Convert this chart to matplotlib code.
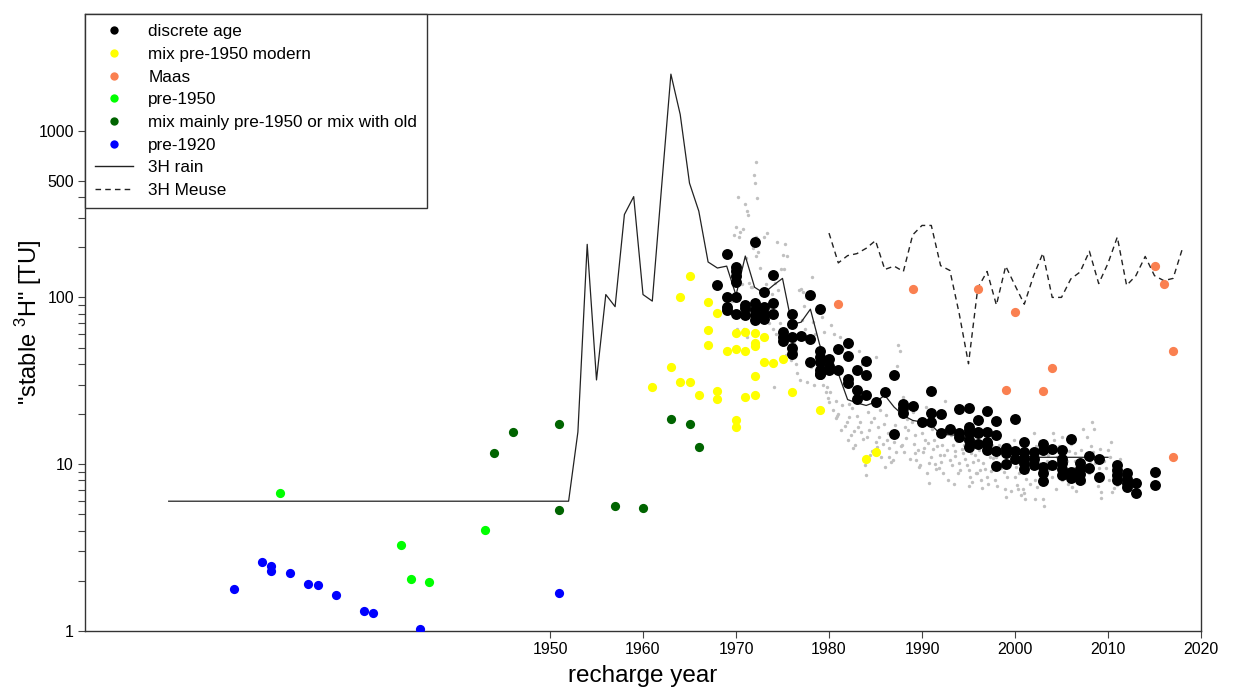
import numpy as np
import matplotlib
matplotlib.use("Agg")
import matplotlib.pyplot as plt
from matplotlib.lines import Line2D
from matplotlib.ticker import FixedLocator, NullFormatter

plt.rcParams['font.family'] = ['Liberation Sans', 'DejaVu Sans']
plt.rcParams['mathtext.fontset'] = 'custom'
plt.rcParams['mathtext.rm'] = 'Liberation Sans'

# --- tritium in rain (solid line) ---
rain_year = [1909, 1952, 1953, 1954, 1955, 1956, 1957, 1958, 1959, 1960, 1961, 1962,
             1963, 1964, 1965, 1966, 1967, 1968, 1969, 1970, 1971, 1972, 1973, 1974,
             1975, 1976, 1977, 1978, 1979, 1980, 1981, 1982, 1983, 1984, 1985, 1986,
             1987, 1988, 1989, 1990, 1991, 1992, 1993, 1994, 1995, 1996, 1997, 1998,
             1999, 2000, 2001, 2002, 2003, 2004, 2005, 2006, 2007, 2008, 2009, 2010]
rain_tu = [6.0, 6.0, 15.6, 208, 32, 104, 88, 314, 402, 104, 95, 460,
           2180, 1250, 484, 329, 163, 150, 154, 103, 177, 115, 106, 118,
           130, 69, 71, 85, 52, 37.5, 35, 24.4, 23.3, 22.5, 23.6, 25.9,
           22, 19.6, 18.3, 17.9, 17.2, 15.1, 15.0, 14.9, 13.8, 13.2, 12.7, 12.3,
           12.0, 11.6, 11.3, 11.0, 11.0, 11.0, 11.0, 11.0, 11.0, 11.0, 11.0, 11.0]

# --- tritium in the Meuse (dashed line) ---
meuse_year = list(range(1980, 2019))
meuse_tu = [243, 161, 178, 183, 197, 219, 147, 154, 143, 237, 270, 270, 155, 145,
            80, 40, 114, 143, 90, 154, 118, 91, 135, 184, 100, 100, 129, 142,
            189, 121, 160, 230, 118, 135, 176, 135, 126, 130, 196]

# --- groundwater samples ---
disc_year = [1972, 1969, 1970, 1970, 1970, 1970, 1974, 1968, 1969, 1970, 1969, 1969,
             1970, 1971, 1971, 1971, 1972, 1972, 1972, 1972, 1973, 1973, 1973, 1973,
             1974, 1974, 1976, 1976, 1975, 1975, 1975, 1976, 1977, 1976, 1976, 1978,
             1978, 1979, 1978, 1979, 1979, 1979, 1979, 1979, 1979, 1980, 1980, 1980,
             1981, 1981, 1982, 1982, 1982, 1982, 1983, 1983, 1983, 1984, 1984, 1984,
             1985, 1986, 1987, 1987, 1988, 1988, 1988, 1989, 1990, 1991, 1991, 1991,
             1992, 1992, 1993, 1994, 1994, 1994, 1995, 1995, 1995, 1995, 1995, 1995,
             1996, 1996, 1996, 1996, 1997, 1997, 1997, 1997, 1997, 1998, 1998, 1998,
             1998, 1999, 1999, 1999, 2000, 2000, 2000, 2001, 2001, 2001, 2001, 2001,
             2002, 2002, 2002, 2003, 2003, 2003, 2003, 2003, 2004, 2004, 2005, 2005,
             2005, 2005, 2005, 2006, 2006, 2006, 2007, 2007, 2007, 2007, 2008, 2008,
             2009, 2009, 2011, 2011, 2011, 2011, 2012, 2012, 2012, 2012, 2013, 2013,
             2015, 2015]
disc_tu = [216, 182, 153, 143, 134, 124, 137, 118, 100, 101, 88, 84,
           79, 90, 86, 78, 93, 84, 78, 73, 107, 88, 80, 74,
           92, 80, 79, 69, 62, 58, 55, 58, 59, 50, 46, 103,
           56, 85, 41, 48, 44, 41, 36.5, 34.9, 34.5, 42.5, 38.6, 36.8,
           49.3, 36.5, 53.2, 44.3, 32.6, 30.7, 36.5, 28.0, 24.7, 41.5, 34.1, 25.9,
           23.6, 27.1, 34.1, 15.1, 22.8, 21.6, 20.3, 22.2, 17.8, 27.5, 20.4, 17.8,
           20.1, 15.3, 16.2, 21.3, 15.3, 14.6, 21.7, 16.7, 15.3, 13.9, 12.7, 16.0,
           18.3, 15.6, 13.3, 15.4, 20.8, 15.6, 13.6, 13.3, 12.2, 18.2, 14.9, 12.0,
           9.8, 12.5, 11.6, 9.96, 18.6, 11.96, 10.8, 13.6, 11.9, 10.9, 10.1, 9.3,
           11.9, 10.8, 9.85, 13.2, 12.1, 9.6, 8.9, 7.9, 12.4, 9.85, 12.1, 10.8,
           10.1, 9.4, 8.6, 14.1, 9.0, 8.3, 10.2, 9.4, 8.7, 8.0, 11.2, 9.5,
           10.8, 8.4, 9.85, 9.2, 8.6, 8.0, 8.8, 8.2, 7.7, 7.25, 7.7, 6.7,
           9.0, 7.5]

mixmod_year = [1965, 1964, 1967, 1968, 1967, 1967, 1970, 1971, 1972, 1973, 1972, 1972,
               1969, 1970, 1971, 1973, 1974, 1975, 1972, 1963, 1961, 1964, 1965, 1966,
               1968, 1968, 1971, 1972, 1976, 1970, 1970, 1979, 1985, 1984]
mixmod_tu = [134, 101, 94, 81, 64, 52, 61, 62, 61, 58, 53.5, 51,
             48, 49, 47.5, 41, 40.5, 42.7, 33.8, 38.3, 29.2, 31.1, 31.3, 25.9,
             27.6, 24.6, 25.2, 26.0, 27.1, 18.3, 16.7, 21.0, 11.8, 10.7]

maas_year = [1981, 1989, 1996, 2000, 2004, 1999, 2003, 2015, 2016, 2017, 2017]
maas_tu = [91, 112, 112, 82, 37.7, 28, 27.4, 154, 120, 48, 11]

pre1950_year = [1921, 1934, 1935, 1937, 1943]
pre1950_tu = [6.7, 3.27, 2.05, 1.96, 4.02]

mixold_year = [1944, 1946, 1951, 1951, 1957, 1960, 1963, 1965, 1966]
mixold_tu = [11.7, 15.6, 17.4, 5.28, 5.6, 5.5, 18.6, 17.5, 12.6]

pre1920_year = [1916, 1919, 1920, 1920, 1922, 1924, 1925, 1927, 1930, 1931, 1936, 1951]
pre1920_tu = [1.79, 2.6, 2.45, 2.29, 2.22, 1.91, 1.89, 1.64, 1.31, 1.29, 1.03, 1.68]

# --- small grey dots (individual estimates) ---
grey_year = [1970.2, 1970.0, 1970.4, 1969.8, 1970.3, 1970.6, 1969.6, 1970.1,
             1971.0, 1971.2, 1971.3, 1970.8, 1971.1, 1971.4, 1971.6, 1970.9, 1971.2,
             1972.1, 1971.9, 1972.0, 1972.3, 1972.2, 1971.8, 1972.4, 1972.1, 1972.6, 1971.7, 1972.3,
             1973.3, 1973.0, 1973.2, 1972.8, 1973.5,
             1974.4, 1974.2, 1974.5, 1973.9, 1974.0, 1974.3, 1974.1,
             1975.3, 1975.0, 1975.5, 1975.2, 1974.8, 1975.6, 1975.4,
             1976.2, 1976.4, 1975.9, 1976.6,
             1977.0, 1976.8, 1977.2, 1977.5, 1977.3, 1977.1, 1977.4, 1976.9, 1977.6,
             1978.2, 1978.0, 1978.3, 1978.5, 1978.1, 1978.4,
             1979.3, 1979.5, 1979.1, 1979.4, 1979.7,
             1980.2, 1980.5, 1980.1, 1979.9, 1980.0, 1980.4,
             1981.2, 1981.5, 1981.4, 1981.0, 1980.8, 1981.3,
             1982.3, 1982.5, 1982.1, 1981.9, 1982.4, 1982.0, 1982.6,
             1983.2, 1983.5, 1983.0, 1983.1, 1983.4, 1982.8,
             1984.2, 1984.5, 1984.3, 1984.1, 1983.9, 1984.0, 1984.6,
             1985.1, 1985.4, 1985.0, 1985.2, 1985.6,
             1986.1, 1985.9, 1986.3, 1986.5, 1986.0, 1986.4,
             1987.4, 1987.6, 1987.3, 1987.5, 1987.2, 1986.9, 1987.0,
             1988.0, 1988.2, 1988.5, 1988.3, 1988.1, 1987.8,
             1989.1, 1989.2, 1989.4, 1988.9, 1989.3,
             1990.0, 1990.3, 1989.8, 1990.5, 1990.2, 1990.4,
             1991.2, 1991.0, 1990.8, 1991.4, 1991.3,
             1992.0, 1992.4, 1991.8, 1992.2, 1992.5,
             1993.1, 1993.3, 1993.0, 1992.8, 1993.5,
             1994.2, 1994.4, 1994.0, 1993.9, 1994.5,
             1995.3, 1995.5, 1994.8, 1995.0, 1995.2, 1995.4, 1995.6,
             1996.1, 1996.0, 1996.2, 1995.9, 1996.3,
             1996.8, 1997.0, 1997.3, 1997.5,
             1998.3, 1998.0, 1998.5, 1997.8,
             1999.1, 1999.0, 1999.4, 1998.8,
             2000.0, 2000.2, 2000.3, 2000.5, 1999.8,
             2000.9, 2001.0, 2001.1, 2001.3, 2001.5,
             2002.0, 2002.2, 2002.1, 2002.5, 2001.8,
             2003.0, 2003.1, 2002.9, 2003.4, 2003.2,
             2004.1, 2004.0, 2004.3, 2004.5, 2003.8,
             2005.0, 2005.1, 2005.4, 2004.8,
             2006.1, 2006.3, 2005.8, 2006.5,
             2007.3, 2007.0, 2007.5, 2006.8,
             2008.3, 2008.5, 2008.4, 2007.9, 2008.1,
             2009.2, 2009.3, 2009.0, 2008.8,
             2010.3, 2010.2, 2010.1, 2010.4, 2009.8,
             2010.8, 2011.0, 2011.2,
             2012.2, 2012.0, 2013.0,
             # second pass, denser part of the cloud
             1973.7, 1974.7, 1976.0, 1976.5, 1978.7, 1979.0, 1979.8, 1980.7, 1980.9,
             1981.7, 1982.2, 1982.7, 1983.3, 1983.7, 1984.4, 1984.8, 1985.3, 1985.5,
             1985.8, 1986.2, 1986.7, 1987.1, 1987.7, 1988.4, 1988.7, 1989.0, 1989.6,
             1989.7, 1990.1, 1990.6, 1990.7, 1991.1, 1991.5, 1991.6, 1991.9, 1992.1,
             1992.3, 1992.7, 1993.2, 1993.4, 1993.6, 1993.8, 1994.1, 1994.3, 1994.6,
             1994.7, 1995.1, 1995.7, 1995.8, 1996.4, 1996.5, 1996.6, 1996.9, 1997.1,
             1997.2, 1997.4, 1997.6, 1997.9, 1998.1, 1998.2, 1998.4, 1998.6, 1998.9,
             1999.2, 1999.3, 1999.5, 1999.6, 1999.9, 2000.1, 2000.4, 2000.6, 2000.7,
             2001.2, 2001.4, 2001.6, 2001.7, 2002.3, 2002.4, 2002.6, 2002.7, 2003.3,
             2003.5, 2003.6, 2004.2, 2004.4, 2004.6, 2004.7, 2005.2, 2005.3, 2005.6,
             2005.7, 2006.0, 2006.2, 2006.4, 2006.6, 2007.1, 2007.2, 2007.4, 2007.7,
             2008.0, 2008.2, 2008.6, 2008.9, 2009.1, 2009.4, 2009.6, 2010.0, 2010.6,
             2011.3, 2011.5, 2012.4, 2012.6]
grey_tu = [400, 265, 246, 238, 231, 121, 95, 65,
           362, 331, 310, 258, 172, 122, 115, 65, 58,
           650, 540, 486, 395, 229, 198, 186, 176, 151, 115, 90,
           242, 229, 120, 105, 70,
           214, 122, 110, 105, 65, 60, 29,
           210, 180, 176, 149, 148, 50, 45,
           53, 48, 42, 35,
           112, 110, 107, 100, 89, 73, 65, 31.8, 31,
           133, 108, 71, 60, 38, 30,
           76, 62, 45, 30, 27,
           68, 60, 27, 25, 23.6, 21,
           58, 50, 22.5, 20, 18.8, 16,
           54, 21.6, 19.2, 17.9, 14.9, 13.9, 12.5,
           48, 40, 19.4, 16.7, 15.5, 13,
           20.6, 17.9, 16, 14.5, 9.85, 8.6, 12,
           44, 14.6, 13.6, 12.7, 11,
           19.6, 17.5, 15.3, 12.5, 9.6, 11,
           51.5, 48, 39, 20.6, 11.9, 10.6, 13.5,
           25.3, 16.7, 16, 14.3, 11.9, 13,
           13.3, 11.6, 10.6, 18, 15,
           15.3, 14, 9.85, 8.8, 12.5, 22,
           12.4, 11.0, 7.7, 10, 14,
           10.3, 11.3, 9.5, 13, 24,
           14.9, 13.0, 10.6, 8.0, 12,
           15.6, 11.6, 10.1, 8.8, 13,
           11.6, 10.3, 9.85, 9.2, 8.4, 7.8, 14,
           12.1, 10.6, 9.2, 8.8, 8.0,
           9.4, 8.4, 11, 13,
           13.0, 11, 9.5, 8,
           8.4, 6.4, 10.5, 9,
           8.4, 7.5, 7.1, 10, 12,
           7.1, 6.7, 6.2, 9, 10.5,
           15.3, 8.0, 6.2, 11, 9.5,
           6.2, 5.6, 8.5, 10.5, 12.5,
           15.3, 8.4, 9.5, 11, 12,
           14.6, 8.0, 11, 9,
           7.3, 9.5, 12, 10.5,
           16.3, 8.5, 11, 9.8,
           17.9, 16.3, 11.9, 9, 10.5,
           6.8, 6.3, 9.5, 11,
           13.6, 11.0, 8.0, 6.8, 9.5,
           9.85, 7.5, 8.5,
           8, 7, 7.5,
           # second pass
           85, 70, 58, 40, 46, 34, 29, 24, 19.5,
           17, 23, 15.8, 18, 14.2, 11.3, 18.8, 16.8, 21,
           13.2, 14, 10.3, 17.2, 12.8, 18.6, 10.8, 20.5, 12.2,
           9.6, 11.8, 13.4, 10.2, 16.2, 9.3, 12.9, 11.4, 15.2,
           8.9, 12.2, 9.9, 7.6, 11.2, 13.8, 9.2, 12.4, 10.8,
           16.5, 7.4, 11.4, 8.9, 13.6, 7.2, 10.1, 11.8, 7.6,
           14.2, 9.1, 10.9, 12.6, 7.4, 14.6, 9.9, 11.8, 7.1,
           13.2, 9.6, 11.2, 6.9, 13.9, 9.6, 8.8, 6.5, 12.4,
           8.1, 11.7, 7.6, 9.7, 12.9, 7.3, 10.1, 13.7, 7.8,
           11.3, 9.2, 13.9, 7.1, 10.4, 12.9, 8.7, 12.5, 10.4,
           7.6, 13.3, 8.2, 11.6, 6.9, 12.2, 9.1, 7.8, 14.6,
           8.9, 12.8, 10.1, 7.4, 12.4, 8.1, 10.4, 12.1, 7.2,
           10.7, 8.1, 9.2, 7.6]

fig = plt.figure(figsize=(12.35, 6.91), dpi=100)
ax = fig.add_axes([85 / 1235, 60 / 691, 1116 / 1235, 617 / 691])

ax.scatter(grey_year, grey_tu, s=6, color='#c0c0c0', linewidths=0, zorder=2)
ax.plot(rain_year, rain_tu, color='#222222', lw=0.9, zorder=3)
ax.plot(meuse_year, meuse_tu, color='#222222', lw=1.0, ls=(0, (4, 3)), zorder=3)

ax.scatter(disc_year, disc_tu, s=62, color='black', linewidths=0, zorder=4)
ax.scatter(mixmod_year, mixmod_tu, s=44, color='#ffff00', linewidths=0, zorder=4)
ax.scatter(maas_year, maas_tu, s=44, color='#fa8050', linewidths=0, zorder=4)
ax.scatter(pre1950_year, pre1950_tu, s=44, color='#00ff00', linewidths=0, zorder=4)
ax.scatter(mixold_year, mixold_tu, s=44, color='#006400', linewidths=0, zorder=4)
ax.scatter(pre1920_year, pre1920_tu, s=44, color='#0000ff', linewidths=0, zorder=4)

ax.set_yscale('log')
ax.set_xlim(1900, 2020)
ax.set_ylim(1, 5000)

ax.set_xticks(range(1950, 2021, 10))
ax.yaxis.set_major_locator(FixedLocator([1, 10, 100, 500, 1000]))
ax.yaxis.set_minor_locator(FixedLocator([2, 3, 4, 5, 6, 7, 8, 9, 20, 30, 40, 50, 60, 70,
                                         80, 90, 200, 300, 400]))
ax.yaxis.set_minor_formatter(NullFormatter())
ax.set_yticklabels(['1', '10', '100', '500', '1000'])
ax.tick_params(axis='both', which='both', direction='out', length=5, width=0.8,
               color='#444444', labelsize=11.5, pad=3)

for sp in ax.spines.values():
    sp.set_color('#333333')
    sp.set_linewidth(1.0)

ax.set_xlabel('recharge year', fontsize=17.5, labelpad=5.5)
ax.set_ylabel('"stable $^\\mathregular{3}$H" [TU]', fontsize=17, labelpad=-4)

handles = [
    Line2D([], [], ls='none', marker='o', ms=6, mfc='black', mec='none'),
    Line2D([], [], ls='none', marker='o', ms=6, mfc='#ffff00', mec='none'),
    Line2D([], [], ls='none', marker='o', ms=6, mfc='#fa8050', mec='none'),
    Line2D([], [], ls='none', marker='o', ms=6, mfc='#00ff00', mec='none'),
    Line2D([], [], ls='none', marker='o', ms=6, mfc='#006400', mec='none'),
    Line2D([], [], ls='none', marker='o', ms=6, mfc='#0000ff', mec='none'),
    Line2D([], [], color='#222222', lw=1.0),
    Line2D([], [], color='#222222', lw=1.0, ls=(0, (4, 3))),
]
labels = ['discrete age', 'mix pre-1950 modern', 'Maas', 'pre-1950',
          'mix mainly pre-1950 or mix with old', 'pre-1920', '3H rain', '3H Meuse']
leg = ax.legend(handles, labels, loc='upper left', bbox_to_anchor=(0, 1),
                borderaxespad=0, fontsize=12.3, frameon=True, fancybox=False,
                edgecolor='#333333', framealpha=1, handlelength=2.2,
                handletextpad=0.9, labelspacing=0.45, borderpad=0.6)
leg.get_frame().set_linewidth(1.0)

fig.savefig('out.png', dpi=100)
